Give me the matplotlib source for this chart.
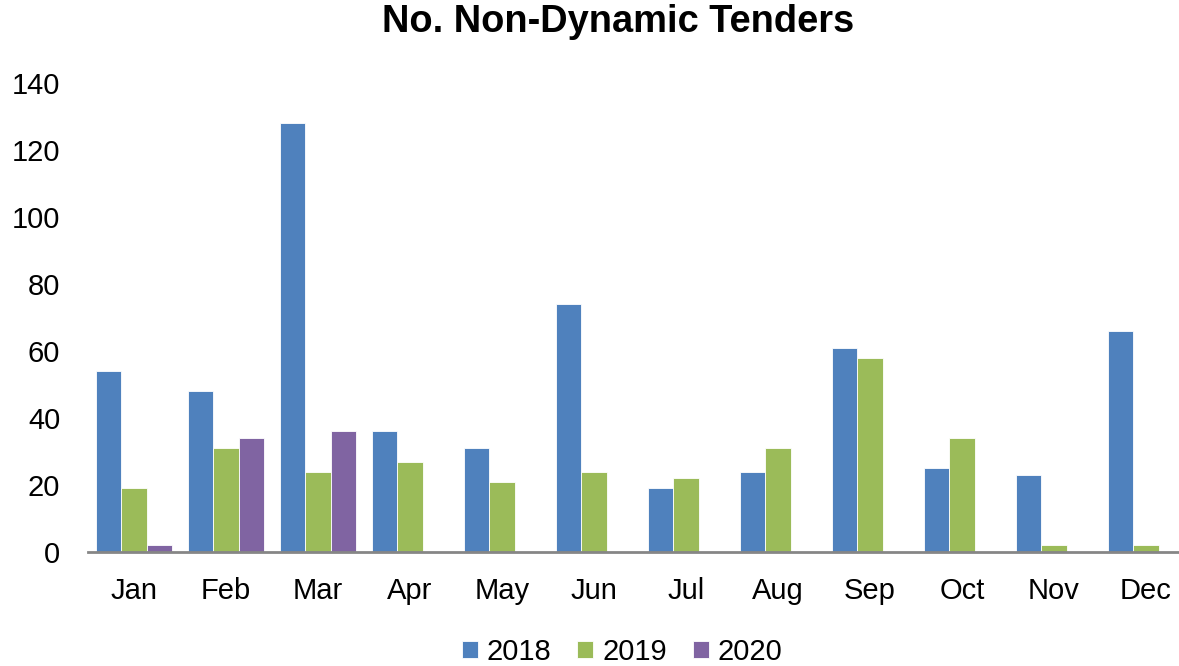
import matplotlib
matplotlib.use("Agg")
import matplotlib.pyplot as plt
import numpy as np

months = ["Jan", "Feb", "Mar", "Apr", "May", "Jun", "Jul", "Aug", "Sep", "Oct", "Nov", "Dec"]
years = ["2018", "2019", "2020"]
v2018 = [54, 48, 128, 36, 31, 74, 19, 24, 61, 25, 23, 66]
v2019 = [19, 31, 24, 27, 21, 24, 22, 31, 58, 34, 2, 2]
v2020 = [2, 34, 36, None, None, None, None, None, None, None, None, None]
colors = ["#4F81BD", "#9BBB59", "#8064A2"]
title = "No. Non-Dynamic Tenders"
yticks = [0, 20, 40, 60, 80, 100, 120, 140]

plt.rcParams['font.family'] = ['Liberation Sans', 'DejaVu Sans']

W, H = 1179, 666
fig = plt.figure(figsize=(W / 100, H / 100), dpi=100)
ax = fig.add_axes([88 / W, 114 / H, (W - 88) / W, 469 / H])

x = np.arange(len(months))
bw = 0.272
series = [v2018, v2019, v2020]
for i, (vals, lab, c) in enumerate(zip(series, years, colors)):
    xs = [xi + (i - 1) * bw for xi, v in zip(x, vals) if v is not None]
    ys = [v for v in vals if v is not None]
    ax.bar(xs, ys, width=bw, color=c, label=lab, edgecolor="white", linewidth=0.6)

ax.set_xlim(-0.5, -0.5 + (W - 88) / 92)
ax.set_ylim(0, 140)
ax.set_yticks(yticks)
ax.set_xticks(x)
ax.set_xticklabels(months)
ax.tick_params(axis='both', length=0, labelsize=21)
ax.tick_params(axis='y', pad=20)
ax.tick_params(axis='x', pad=18)
for s in ["top", "right", "left"]:
    ax.spines[s].set_visible(False)
ax.spines["bottom"].set_color("#868686")
ax.spines["bottom"].set_linewidth(2)

fig.text(618 / W, 1 - 32 / H, title, ha='center', va='baseline', fontsize=27.4, fontweight='bold')

leg = fig.legend(loc='center', bbox_to_anchor=(622 / W, 1 - 652 / H), ncol=3, frameon=False,
                 fontsize=21, handlelength=0.55, handleheight=0.55, handletextpad=0.3,
                 columnspacing=0.9, borderaxespad=0)

fig.savefig("out.png", dpi=100)
